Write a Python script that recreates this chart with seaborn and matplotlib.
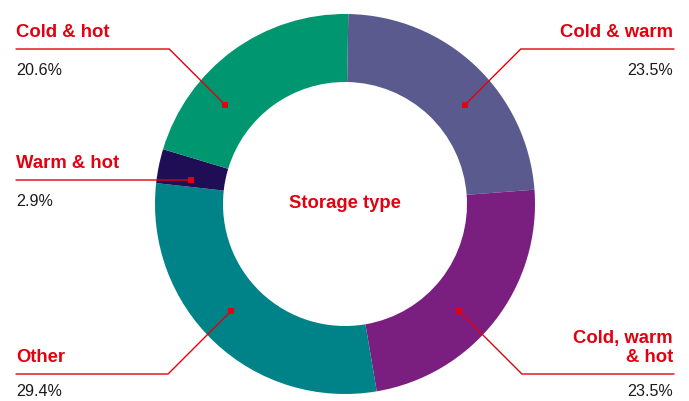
import matplotlib
matplotlib.use("Agg")
import matplotlib.pyplot as plt
import numpy as np
import seaborn as sns

# data
categories = ["Cold & warm", "Cold, warm\n& hot", "Other", "Warm & hot", "Cold & hot"]
shares = [23.5, 23.5, 29.4, 2.9, 20.6]
share_labels = ["23.5%", "23.5%", "29.4%", "2.9%", "20.6%"]
colors = ["#5a5a8e", "#7a1e80", "#008289", "#1f0e55", "#00966f"]

center_title = "Storage type"
RED = "#e3000f"

# layout of the callouts (in pixels, y measured from top)
W, H = 689, 401
CX, CY = 345, 204
R_OUT, R_IN = 190, 122
anchor_angle = [50.4, 133.2, 226.8, 278.8, 309.6]   # clockwise from 12 o'clock
line_y = [49, 374, 374, 180, 49]
side = ["right", "right", "left", "left", "left"]
LEFT_X, RIGHT_X = 16, 674

sns.set_theme(style="white")
plt.rcParams["font.family"] = ["Liberation Sans", "DejaVu Sans"]

fig = plt.figure(figsize=(W / 100, H / 100), dpi=100)
ax = fig.add_axes([0, 0, 1, 1])

ax.pie(shares, colors=colors, startangle=89, counterclock=False,
       center=(CX, H - CY), radius=R_OUT,
       wedgeprops=dict(width=R_OUT - R_IN, linewidth=0))

ax.text(CX, H - CY, center_title, ha="center", va="center",
        fontsize=13.3, fontweight="bold", color=RED)

r_mid = (R_OUT + R_IN) / 2
for i, cat in enumerate(categories):
    a = np.deg2rad(anchor_angle[i])
    mx = CX + r_mid * np.sin(a)
    my = CY - r_mid * np.cos(a)
    ly = line_y[i]
    # 45 degree leg from the marker up/down to the label line
    dy = abs(ly - my)
    ex = mx + dy if side[i] == "right" else mx - dy
    end_x = RIGHT_X if side[i] == "right" else LEFT_X
    xs = [mx, ex, end_x]
    ys = [H - my, H - ly, H - ly]
    ax.plot(xs, ys, color=RED, lw=1.0, solid_joinstyle="miter")
    ax.plot(mx, H - my, marker="s", ms=4.5, color=RED, mew=0)

    ha = "right" if side[i] == "right" else "left"
    tx = end_x - 1 if side[i] == "right" else end_x
    ax.text(tx, H - (ly - 12), cat, ha=ha, va="baseline", fontsize=13.3,
            fontweight="bold", color=RED, linespacing=1.15,
            multialignment=ha)
    pct_y = min(ly + 26, H - 5)
    ax.text(tx, H - pct_y, share_labels[i], ha=ha, va="baseline",
            fontsize=11.6, color="#1a1a1a")

ax.set_xlim(0, W)
ax.set_ylim(0, H)
ax.set_aspect("equal")
ax.axis("off")

fig.savefig("out.png", dpi=100)
